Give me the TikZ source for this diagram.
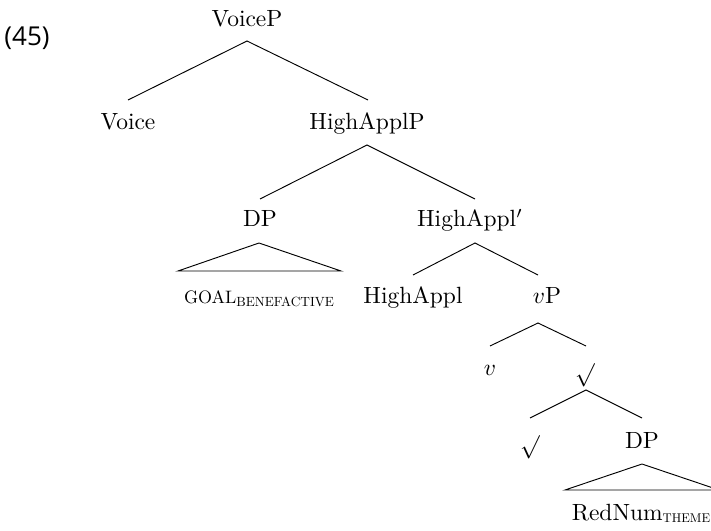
\documentclass[tikz,border=0pt]{standalone}
\usepackage{amsmath}
\usepackage{graphicx}
\usepackage{fontspec}
\newfontfamily\exnumfont{Open Sans}
% tree labels: 10pt design size, enlarged
\newcommand{\tlab}[1]{\scalebox{1.76}{\fontsize{10}{12}\selectfont #1}}
% smaller capitals within a label, same design size
\newcommand{\capsat}[2]{\scalebox{#1}{#2}}
\begin{document}
\begin{tikzpicture}[x=0.75pt,y=-0.75pt,
  lbl/.style={anchor=base,inner sep=0pt},
  rootsym/.style={anchor=center,inner sep=0pt},
  branch/.style={line width=0.7pt,black}]
\useasboundingbox (0,0) rectangle (711,531);
\clip (0,0) rectangle (711,531);

% example number
\node[lbl,font=\exnumfont\fontsize{19.5}{23}\selectfont] (ex) at (27,46) {(45)};

% labels
\node[lbl] (voiceP) at (247,27) {\tlab{VoiceP}};
\node[lbl] (voice) at (128,130) {\tlab{Voice}};
\node[lbl] (highP) at (367,130) {\tlab{HighApplP}};
\node[lbl] (dp1) at (260,227) {\tlab{DP}};
\node[lbl] (highbar) at (470,227) {\tlab{HighAppl$'$}};
\node[lbl] (goal) at (259,304) {\tlab{\capsat{0.767}{GOAL}\raisebox{-0.9pt}{\capsat{0.568}{BENEFACTIVE}}}};
\node[lbl] (high) at (413,303) {\tlab{HighAppl}};
\node[lbl] (vP) at (547,303) {\tlab{$v$P}};
\node[lbl] (v) at (490,375) {\tlab{$v$}};
\node[rootsym] (rootP) at (585,375) {\tlab{$\surd$}};
\node[rootsym] (root) at (530,447) {\tlab{$\surd$}};
\node[lbl] (dp2) at (642,448) {\tlab{DP}};
\node[lbl] (rednum) at (641,520) {\tlab{RedNum\raisebox{-0.9pt}{\capsat{0.54}{THEME}}}};

% branch end points
\coordinate (voiceP-b) at (247,41);
\coordinate (voice-t) at (128,100);
\coordinate (highP-t) at (368,100);
\coordinate (highP-b) at (367,145);
\coordinate (dp1-t) at (260,199);
\coordinate (highbar-t) at (475,199);
\coordinate (dp1-b) at (259,243);
\coordinate (goal-l) at (178,271);
\coordinate (goal-r) at (341,271);
\coordinate (highbar-b) at (475,243);
\coordinate (high-t) at (413,275);
\coordinate (vP-t) at (538,275);
\coordinate (vP-b) at (538,323);
\coordinate (v-t) at (490,346);
\coordinate (rootP-t) at (586,346);
\coordinate (rootP-b) at (586,390);
\coordinate (root-t) at (530,418);
\coordinate (dp2-t) at (642,418);
\coordinate (dp2-b) at (642,464);
\coordinate (rednum-l) at (565,490);
\coordinate (rednum-r) at (719,490);

% branches
\draw[branch] (voice-t) -- (voiceP-b) -- (highP-t);
\draw[branch] (dp1-t) -- (highP-b) -- (highbar-t);
\draw[branch] (goal-l) -- (dp1-b) -- (goal-r) -- cycle;
\draw[branch] (high-t) -- (highbar-b) -- (vP-t);
\draw[branch] (v-t) -- (vP-b) -- (rootP-t);
\draw[branch] (root-t) -- (rootP-b) -- (dp2-t);
\draw[branch] (rednum-l) -- (dp2-b) -- (rednum-r) -- cycle;
\end{tikzpicture}
\end{document}
